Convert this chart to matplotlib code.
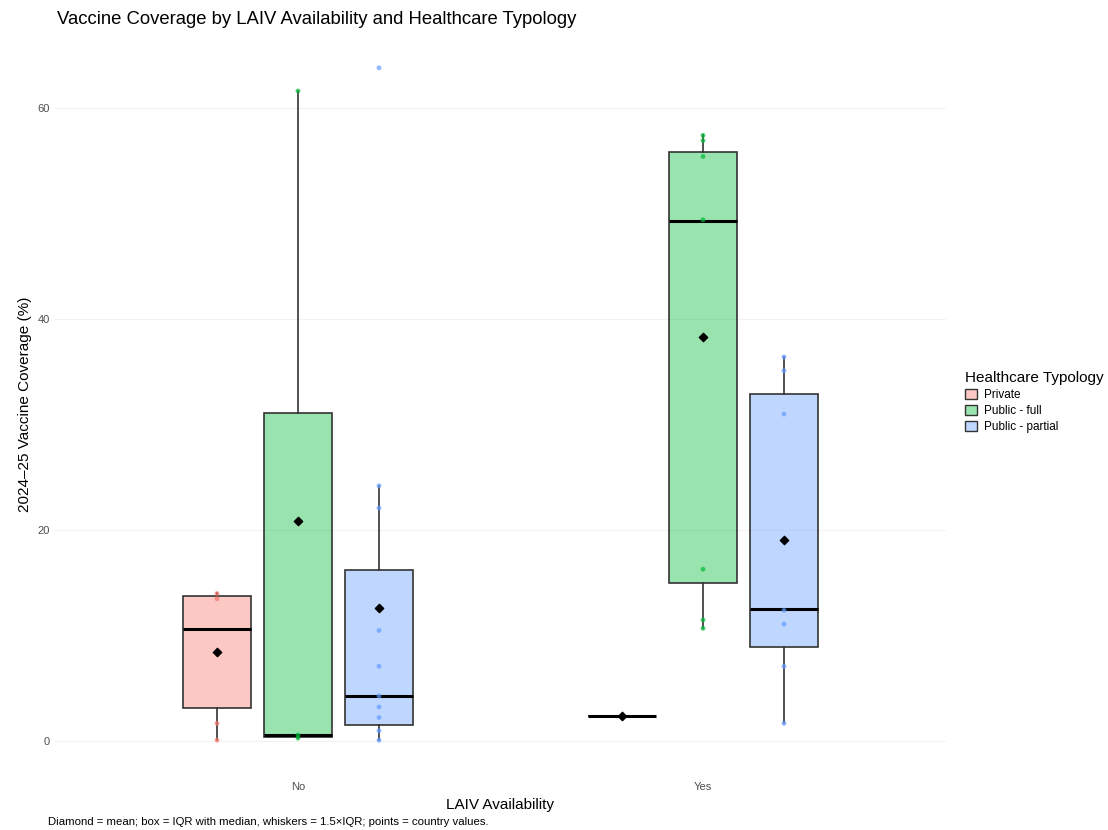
import matplotlib
matplotlib.use("Agg")
import matplotlib.pyplot as plt
from matplotlib.patches import Patch
import numpy as np

plt.rcParams['font.family'] = ['Liberation Sans', 'DejaVu Sans']

laiv = ["No", "Yes"]
typologies = ["Private", "Public - full", "Public - partial"]
fills = ["#F8766D", "#00BA38", "#619CFF"]

# box statistics per typology, [No, Yes]
q1 = {"Private": [3.19, 2.37], "Public - full": [0.45, 15.0], "Public - partial": [1.58, 8.9]}
med = {"Private": [10.59, 2.37], "Public - full": [0.6, 49.3], "Public - partial": [4.3, 12.5]}
q3 = {"Private": [13.74, 2.37], "Public - full": [31.1, 55.8], "Public - partial": [16.2, 32.9]}
whislo = {"Private": [0.1, 2.37], "Public - full": [0.3, 10.7], "Public - partial": [0.1, 1.7]}
whishi = {"Private": [14.0, 2.37], "Public - full": [61.6, 57.4], "Public - partial": [24.2, 36.4]}
means = {"Private": [8.41, 2.37], "Public - full": [20.85, 38.3], "Public - partial": [12.6, 19.05]}

# country values
points = {
    ("Private", "No"): [14.0, 13.5, 1.7, 0.1],
    ("Private", "Yes"): [2.37],
    ("Public - full", "No"): [0.3, 0.6, 61.6],
    ("Public - full", "Yes"): [57.4, 56.9, 55.4, 49.4, 16.3, 11.5, 10.7],
    ("Public - partial", "No"): [63.8, 24.2, 22.1, 10.5, 7.1, 4.3, 3.25, 2.25, 1.0, 0.1],
    ("Public - partial", "Yes"): [36.4, 35.1, 31.0, 12.4, 11.1, 7.1, 1.7],
}

fig = plt.figure(figsize=(11.08, 8.30), dpi=100)
ax = fig.add_axes([55/1108, 1-774/830, (946-55)/1108, (774-34)/830])

offsets = [-0.2, 0.0, 0.2]
width = 0.168

for ti, t in enumerate(typologies):
    stats = []
    pos = []
    for gi, g in enumerate(laiv):
        stats.append(dict(q1=q1[t][gi], med=med[t][gi], q3=q3[t][gi],
                          whislo=whislo[t][gi], whishi=whishi[t][gi], fliers=[]))
        pos.append(gi + 1 + offsets[ti])
    ax.bxp(stats, positions=pos, widths=width, patch_artist=True, showcaps=False,
           showfliers=False,
           boxprops=dict(facecolor=matplotlib.colors.to_rgba(fills[ti], 0.4),
                         edgecolor="#333333", linewidth=1.2),
           whiskerprops=dict(color="#333333", linewidth=1.2),
           medianprops=dict(color="black", linewidth=2.2),
           zorder=2)
    for gi, g in enumerate(laiv):
        vals = points[(t, g)]
        ax.scatter([gi + 1 + offsets[ti]] * len(vals), vals, s=12, color=fills[ti],
                   alpha=0.7, edgecolors="none", zorder=3)
        ax.scatter([gi + 1 + offsets[ti]], [means[t][gi]], marker="D", s=18,
                   color="black", zorder=4)

ax.set_xlim(0.4, 2.6)
ax.set_ylim(-3.1, 67.0)
ax.set_xticks([1, 2])
ax.set_xticklabels(laiv)
ax.set_yticks([0, 20, 40, 60])
ax.tick_params(axis="both", length=0, labelsize=8, labelcolor="#4d4d4d")
ax.tick_params(axis="x", pad=6)
for s in ax.spines.values():
    s.set_visible(False)
ax.grid(True, axis="y", color="#f2f2f2", linewidth=0.8)
ax.set_axisbelow(True)

ax.set_xlabel("LAIV Availability", fontsize=11, labelpad=4)
ax.set_ylabel("2024\u201325 Vaccine Coverage (%)", fontsize=11, labelpad=4)

fig.text(57/1108, 1-19/830, "Vaccine Coverage by LAIV Availability and Healthcare Typology",
         fontsize=13.3, va="center", ha="left")
fig.text(48/1108, 1-822/830,
         "Diamond = mean; box = IQR with median, whiskers = 1.5\u00d7IQR; points = country values.",
         fontsize=8.2, va="center", ha="left")

handles = [Patch(facecolor=matplotlib.colors.to_rgba(c, 0.4), edgecolor="#333333", linewidth=1.0)
           for c in fills]
leg = fig.legend(handles, typologies, loc="upper left", bbox_to_anchor=(960/1108, 1-366/830),
                 frameon=False, title="Healthcare Typology", fontsize=8.5, title_fontsize=11,
                 handlelength=1.0, handleheight=0.9, handletextpad=0.6, labelspacing=0.35,
                 borderaxespad=0)
leg._legend_box.align = "left"

fig.savefig("out.png", dpi=100)
